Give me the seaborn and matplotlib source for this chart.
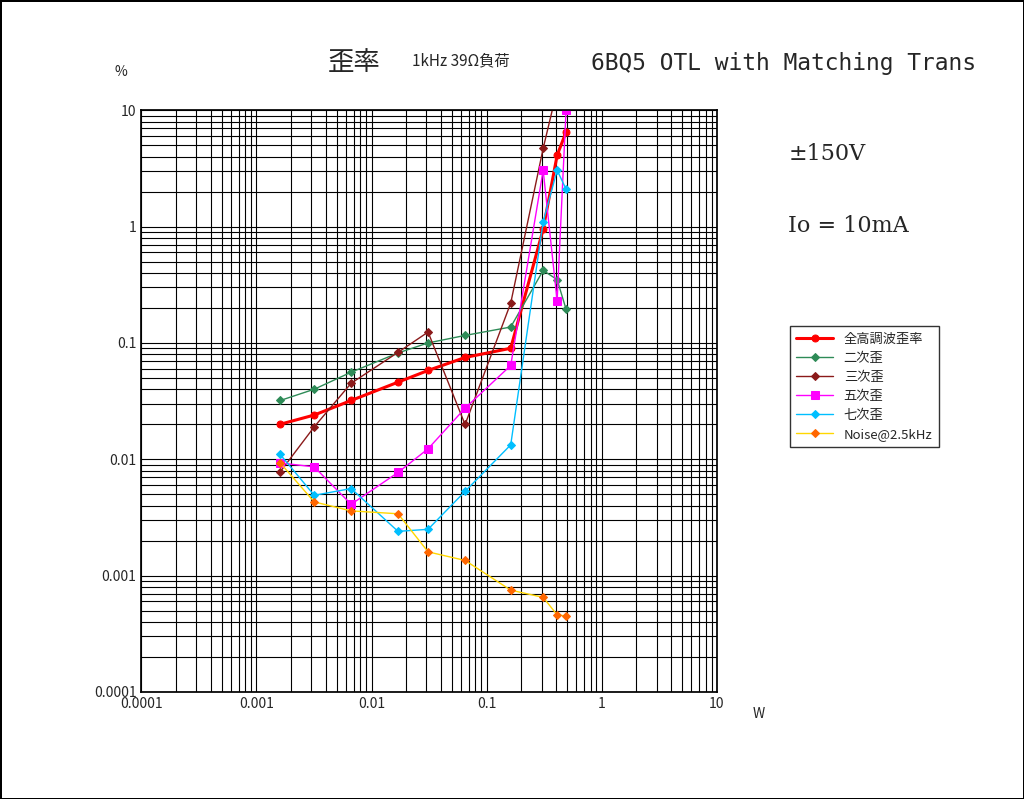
import matplotlib
matplotlib.use("Agg")
import matplotlib.pyplot as plt
import seaborn as sns
import pandas as pd
from matplotlib.ticker import LogLocator, FixedFormatter, FixedLocator

sns.set_theme(style="white")
plt.rcParams["font.family"] = ["Noto Sans CJK JP", "DejaVu Sans"]

power_w = [0.00161, 0.00318, 0.00665, 0.017, 0.031, 0.065, 0.162, 0.31, 0.41, 0.49]
thd = [0.020, 0.024, 0.032, 0.046, 0.058, 0.075, 0.090, 0.95, 4.1, 6.5]
h2 = [0.032, 0.040, 0.056, 0.082, 0.100, 0.116, 0.137, 0.42, 0.35, 0.195]
h3 = [0.0078, 0.019, 0.045, 0.083, 0.124, 0.0199, 0.22, 4.7, 15.0]
h5 = [0.0093, 0.0086, 0.0041, 0.0077, 0.0123, 0.0275, 0.064, 3.05, 0.23, 10.0]
h7 = [0.011, 0.0049, 0.0056, 0.0024, 0.0025, 0.0053, 0.0133, 1.1, 3.05, 2.1]
noise = [0.0093, 0.0043, 0.0036, 0.0034, 0.0016, 0.00135, 0.00075, 0.00065, 0.00046, 0.00045]

series = [
    ("全高調波歪率", thd, "#ff0000", "o", 2.2, 5),
    ("二次歪", h2, "#2e8b57", "D", 1.0, 4),
    ("三次歪", h3, "#8b1a1a", "D", 1.0, 4),
    ("五次歪", h5, "#ff00ff", "s", 1.0, 6),
    ("七次歪", h7, "#00bfff", "D", 1.0, 4),
    ("Noise@2.5kHz", noise, "#ffd700", "D", 1.0, 4),
]

fig = plt.figure(figsize=(10.24, 7.99), dpi=100)
fig.patch.set_edgecolor("black")
fig.patch.set_linewidth(2)
ax = fig.add_axes([0.138, 0.134, 0.562, 0.728])

for name, vals, color, mk, lw, ms in series:
    df = pd.DataFrame({"W": power_w[:len(vals)], "v": vals})
    mfc = "#ff6600" if name.startswith("Noise") else color
    sns.lineplot(data=df, x="W", y="v", ax=ax, color=color, marker=mk, lw=lw,
                 markersize=ms, markerfacecolor=mfc, markeredgecolor=mfc,
                 label=name, clip_on=True)

ax.set_xscale("log")
ax.set_yscale("log")
ax.set_xlim(0.0001, 10)
ax.set_ylim(0.0001, 10)
ticks = [1e-4, 1e-3, 1e-2, 0.1, 1, 10]
tick_labels = ["0.0001", "0.001", "0.01", "0.1", "1", "10"]
ax.xaxis.set_major_locator(FixedLocator(ticks))
ax.xaxis.set_major_formatter(FixedFormatter(tick_labels))
ax.yaxis.set_major_locator(FixedLocator(ticks))
ax.yaxis.set_major_formatter(FixedFormatter(tick_labels))
ax.xaxis.set_minor_locator(LogLocator(base=10, subs=range(2, 10)))
ax.yaxis.set_minor_locator(LogLocator(base=10, subs=range(2, 10)))
ax.grid(True, which="both", color="black", lw=0.8)
ax.tick_params(which="both", length=0, labelsize=10)
for s in ax.spines.values():
    s.set_color("black")
ax.set_xlabel("")
ax.set_ylabel("")

fig.text(0.112, 0.905, "%", fontsize=10)
fig.text(0.735, 0.102, "W", fontsize=10)
fig.text(0.32, 0.913, "歪率", fontsize=19)
fig.text(0.402, 0.918, "1kHz 39Ω負荷", fontsize=11)
fig.text(0.577, 0.912, "6BQ5 OTL with Matching Trans", fontsize=16.5, family="DejaVu Sans Mono")
fig.text(0.77, 0.80, "±150V", fontsize=16, family="DejaVu Serif")
fig.text(0.77, 0.71, "Io = 10mA", fontsize=16, family="DejaVu Serif")

leg = ax.legend(loc="upper left", bbox_to_anchor=(1.115, 0.64), fontsize=9.5,
                frameon=True, fancybox=False, edgecolor="black", borderpad=0.5,
                handlelength=2.8, labelspacing=0.45)
leg.get_frame().set_linewidth(1)

fig.savefig("out.png", dpi=100, edgecolor=fig.get_edgecolor())
